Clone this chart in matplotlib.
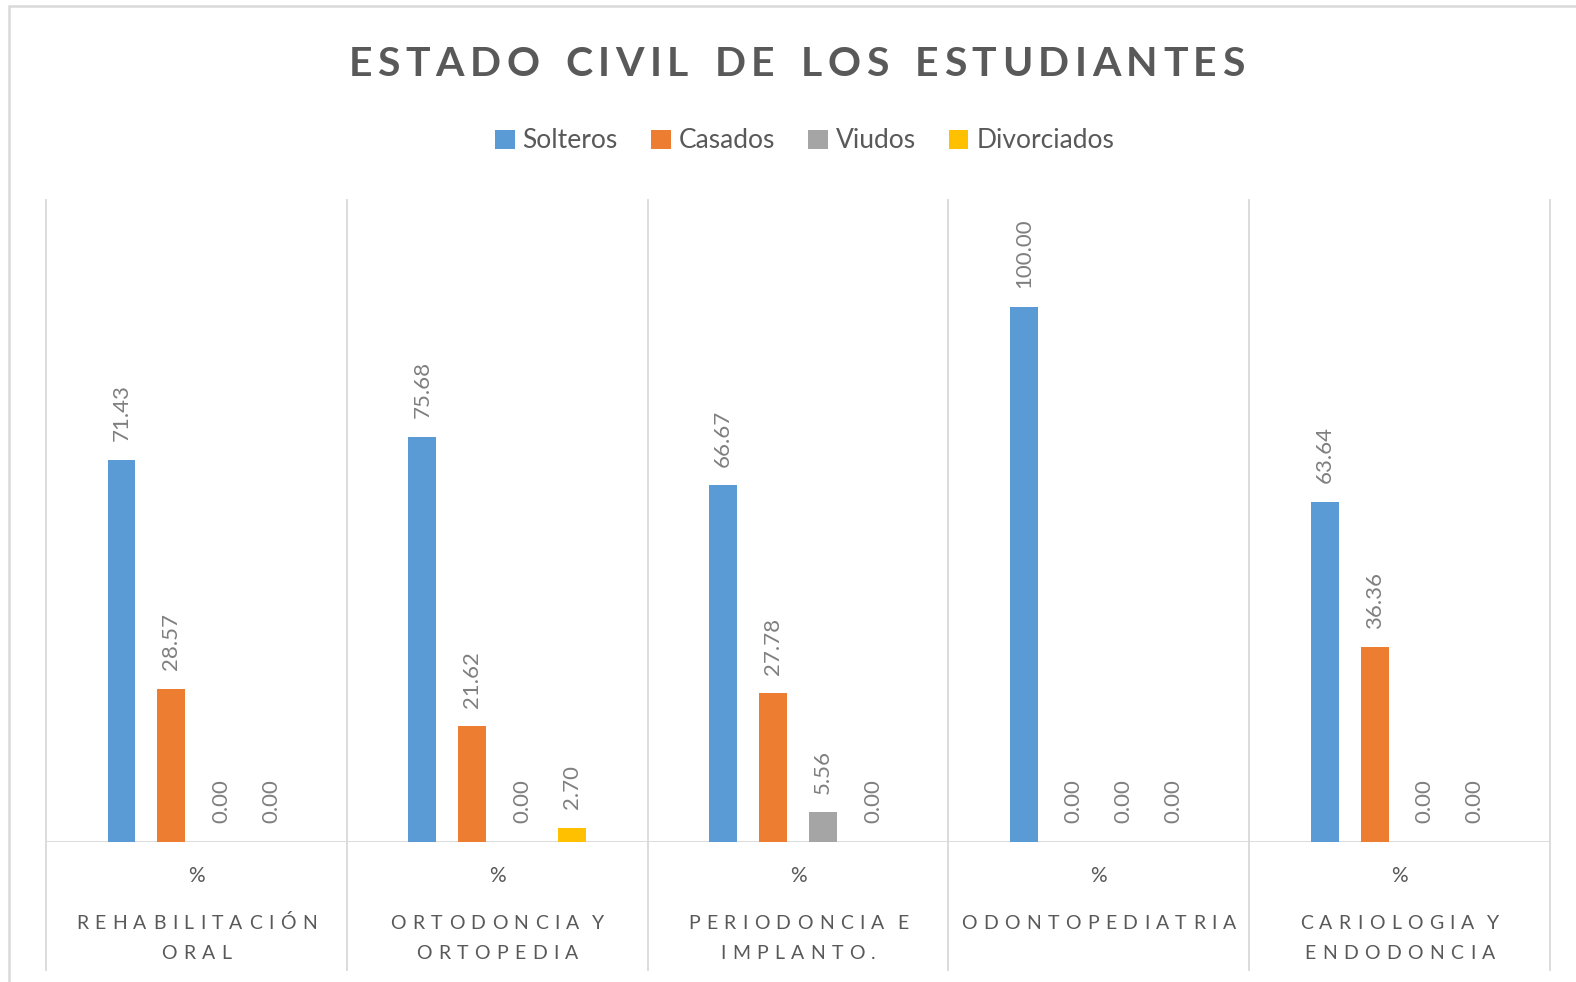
import matplotlib
matplotlib.use("Agg")
import matplotlib.pyplot as plt
from matplotlib.patches import Rectangle, Patch
from matplotlib.font_manager import FontProperties, findfont
from matplotlib.ft2font import FT2Font

# ---------------- data ----------------
categories = [["REHABILITACIÓN", "ORAL"],
              ["ORTODONCIA Y", "ORTOPEDIA"],
              ["PERIODONCIA E", "IMPLANTO."],
              ["ODONTOPEDIATRIA"],
              ["CARIOLOGIA Y", "ENDODONCIA"]]
sub_label = "%"
series_names = ["Solteros", "Casados", "Viudos", "Divorciados"]
solteros = [71.43, 75.68, 66.67, 100.00, 63.64]
casados = [28.57, 21.62, 27.78, 0.00, 36.36]
viudos = [0.00, 0.00, 5.56, 0.00, 0.00]
divorciados = [0.00, 2.70, 0.00, 0.00, 0.00]
title = "ESTADO CIVIL DE LOS ESTUDIANTES"

series = [solteros, casados, viudos, divorciados]
colors = ["#5b9bd5", "#ed7d31", "#a5a5a5", "#ffc000"]

W, H = 1576, 982
DPI = 100
FAM = "Lato"
DARK = "#595959"
LABEL = "#7f7f7f"
GRID = "#d9d9d9"

fig = plt.figure(figsize=(W / DPI, H / DPI), dpi=DPI)
fig.patch.set_facecolor("white")

# chart border (only left & top visible in reference)
fig.patches.append(Rectangle((9 / W, -0.05), 1.2, 1 - 6 / H + 0.05,
                             transform=fig.transFigure, fill=False,
                             edgecolor=GRID, lw=1.8))

ax_top, ax_bot = 200, 842
ax_l, ax_r = 46, 1550
ax = fig.add_axes([ax_l / W, (H - ax_bot) / H, (ax_r - ax_l) / W, (ax_bot - ax_top) / H])
ax.set_xlim(-0.5, len(categories) - 0.5)
ax.set_ylim(0, 120)
for s in ax.spines.values():
    s.set_visible(False)
ax.set_xticks([])
ax.set_yticks([])

slot = 0.166
bw = 0.093
n = len(series)
for j, (vals, col) in enumerate(zip(series, colors)):
    xs = [i + (j - (n - 1) / 2) * slot for i in range(len(vals))]
    ax.bar(xs, vals, width=bw, color=col, zorder=3)
    for x, v in zip(xs, vals):
        ax.annotate(f"{v:.2f}", (x, v), xytext=(0, 13.5), textcoords="offset points",
                    rotation=90, ha="center", va="bottom", fontsize=16,
                    color=LABEL, family=FAM)

# axis line and category separators
ax.axhline(0, color=GRID, lw=1.3, zorder=2)
ext = (ax_bot - 970) / (ax_bot - ax_top)
for b in range(len(categories) + 1):
    ax.axvline(b - 0.5, ymin=ext, ymax=1, color=GRID, lw=1.3, clip_on=False, zorder=1)


def spaced_text(xc, y_base, s, size, weight, color, extra, space):
    prop = FontProperties(family=FAM, size=size, weight=weight)
    font = FT2Font(findfont(prop))
    font.set_size(size, DPI)
    advs = [space if c == " " else font.load_char(ord(c)).linearHoriAdvance / 65536
            for c in s]
    tw = sum(advs) + extra * (len(s) - 1)
    x = xc - tw / 2
    for c, a in zip(s, advs):
        if c != " ":
            fig.text((x + a / 2) / W, 1 - y_base / H, c, ha="center", va="baseline",
                     fontproperties=prop, color=color)
        x += a + extra


# title
spaced_text((348 + 1245) / 2, 76, title, 29.5, "bold", DARK, extra=5.5, space=15)

# legend
handles = [Patch(facecolor=c, edgecolor="none") for c in colors]
fig.legend(handles, series_names, loc="center", ncol=4,
           bbox_to_anchor=((496 + 1113) / 2 / W, 1 - 141 / H), frameon=False,
           prop=FontProperties(family=FAM, size=19), labelcolor=DARK,
           handlelength=0.75, handleheight=0.75, handletextpad=0.3,
           columnspacing=1.25)

# category labels
cat_size = 14
for i, lines in enumerate(categories):
    xc = ax.transData.transform((i, 0))[0]
    fig.text(xc / W, 1 - 882 / H, sub_label, ha="center", va="baseline",
             fontsize=15, color=DARK, family=FAM)
    for k, line in enumerate(lines):
        spaced_text(xc, 929 + k * 30, line, cat_size, "normal", DARK, extra=6.3, space=0)

fig.savefig("out.png", dpi=DPI)
